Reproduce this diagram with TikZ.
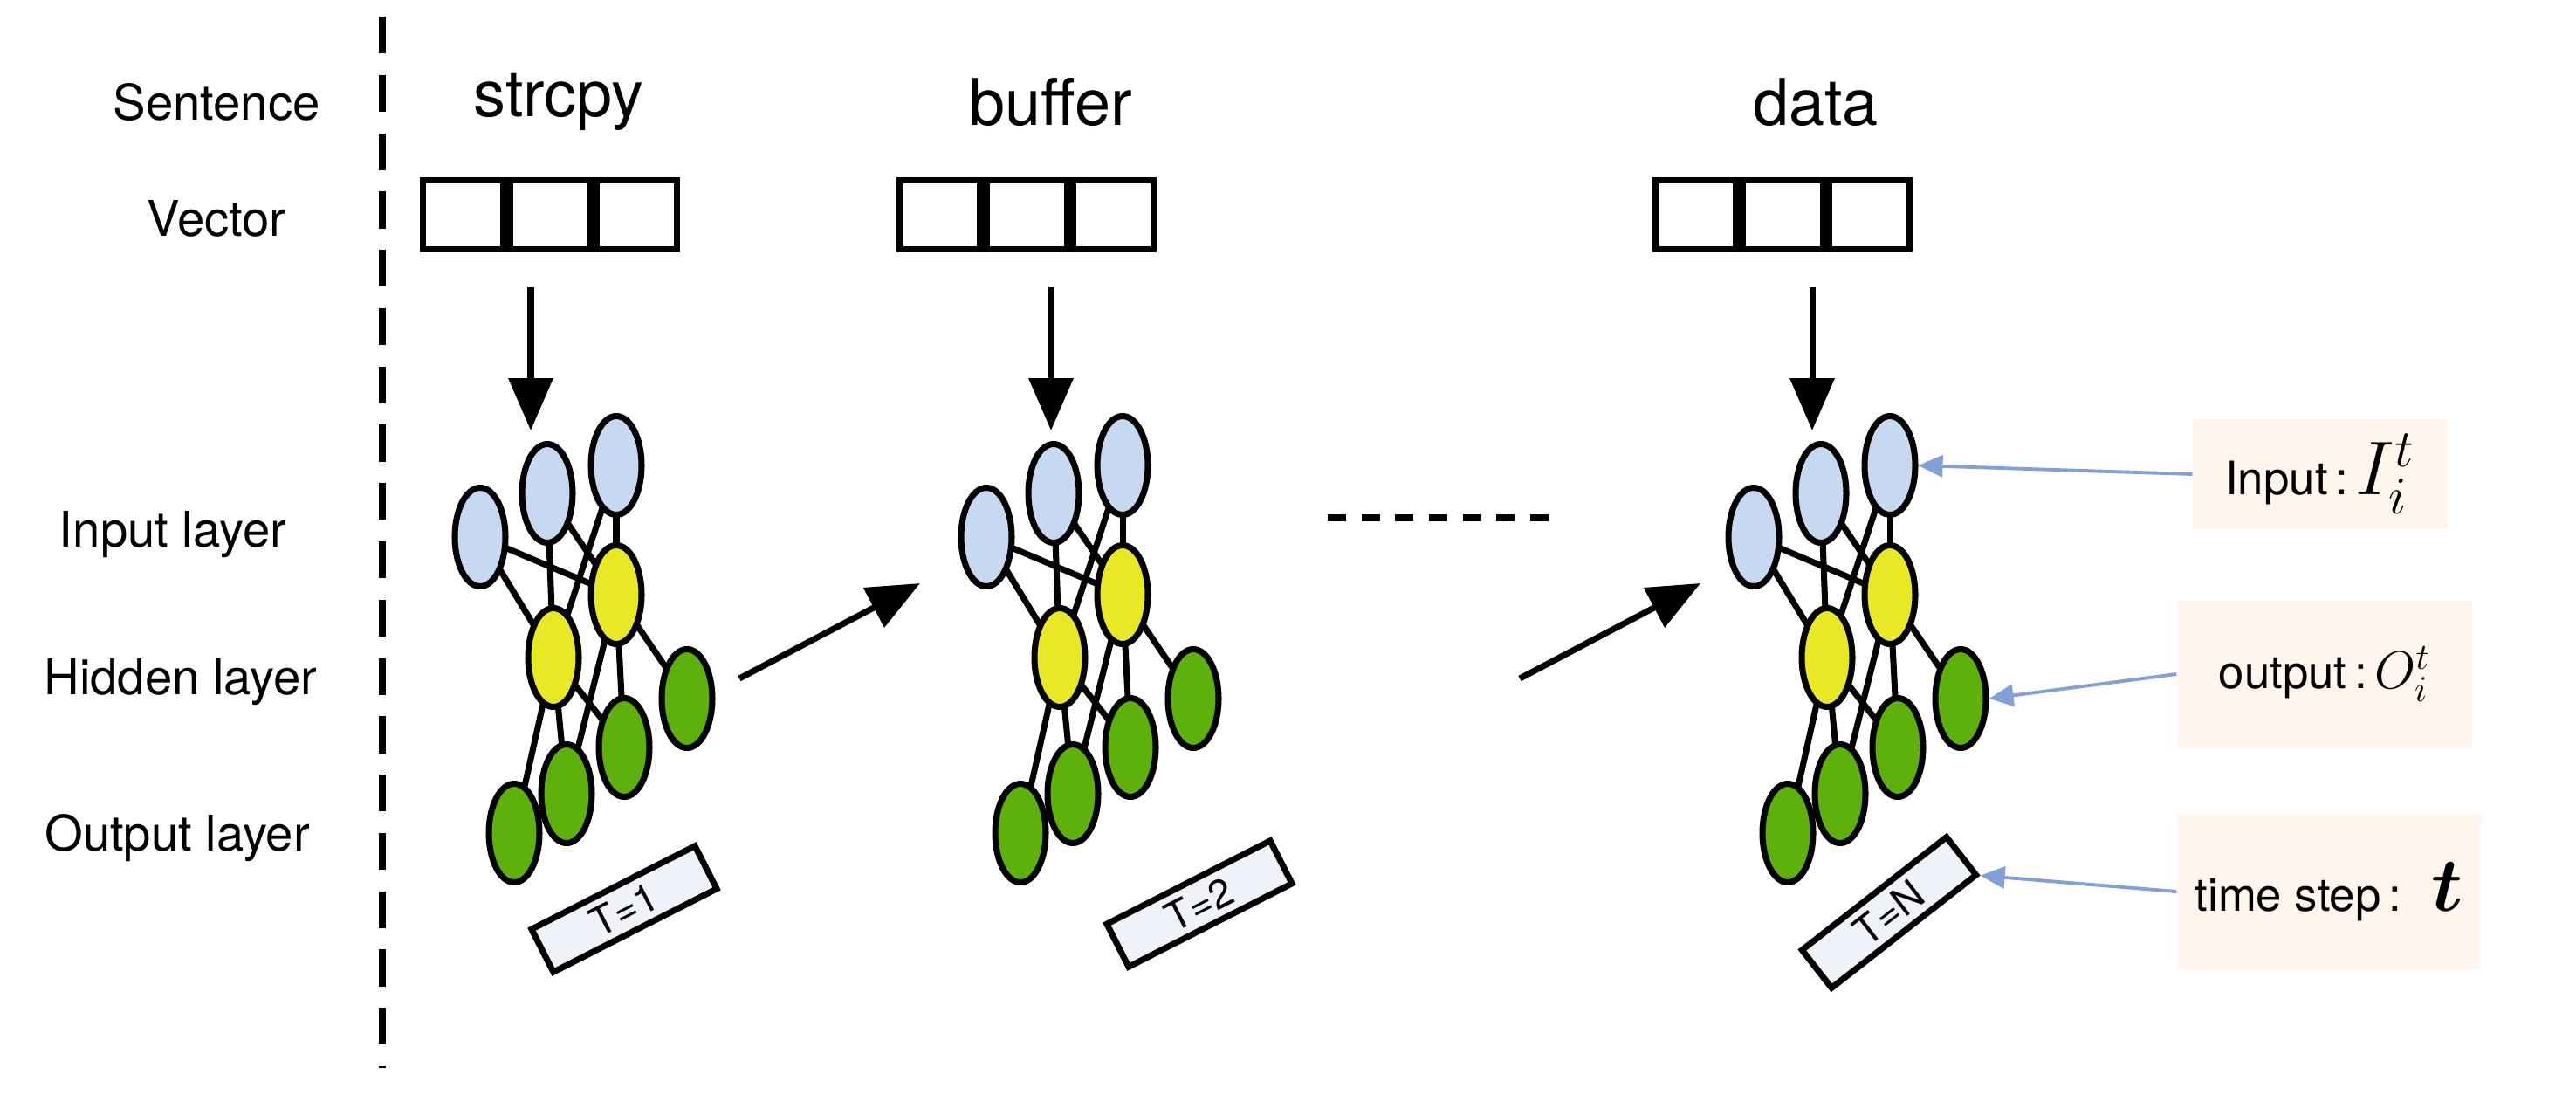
\documentclass[tikz,border=0pt]{standalone}
\usepackage{amsmath}
\usepackage{fontspec}
\setmainfont{TeX Gyre Heros}
\usepackage{tikz}
\usetikzlibrary{shapes.geometric,arrows.meta,positioning}
\definecolor{inblue}{RGB}{198,217,240}
\definecolor{hidyel}{RGB}{232,232,36}
\definecolor{outgrn}{RGB}{94,176,10}
\definecolor{tfill}{RGB}{240,242,250}
\definecolor{peach}{RGB}{254,245,236}
\definecolor{linkblue}{RGB}{130,160,215}
\pgfdeclarelayer{bg}
\pgfsetlayers{bg,main}
\tikzset{
  neuron/.style={ellipse,draw,line width=2pt,minimum width=0.58cm,minimum height=1.13cm,inner sep=0pt},
  tbox/.style={draw,line width=2pt,fill=tfill,minimum width=2.1cm,minimum height=0.55cm,inner sep=0pt,font=\fontsize{13}{14}\selectfont},
  cell/.style={draw,line width=2pt,minimum width=0.92cm,minimum height=0.79cm,inner sep=0pt},
  side/.style={fill=peach,font=\fontsize{15}{17}\selectfont},
  feed/.style={line width=2pt,-{Triangle[length=0.6cm,width=0.5cm]}},
  pointer/.style={linkblue,line width=1.1pt,-{Triangle[length=0.28cm,width=0.25cm]}},
  word/.style={font=\fontsize{21}{23}\selectfont},
  lbl/.style={font=\fontsize{16}{18}\selectfont}
}
% one small network, shifted by #1, nodes named #2...
\newcommand{\drawnet}[2]{
  \begin{scope}[xshift=#1cm]
    \node[neuron,fill=inblue] (#2i1) at (5.50,-6.15) {};
    \node[neuron,fill=inblue] (#2i2) at (6.27,-5.65) {};
    \node[neuron,fill=inblue] (#2i3) at (7.06,-5.33) {};
    \node[neuron,fill=hidyel] (#2h1) at (6.34,-7.53) {};
    \node[neuron,fill=hidyel] (#2h2) at (7.06,-6.81) {};
    \node[neuron,fill=outgrn] (#2o1) at (5.89,-9.54) {};
    \node[neuron,fill=outgrn] (#2o2) at (6.49,-9.09) {};
    \node[neuron,fill=outgrn] (#2o3) at (7.15,-8.56) {};
    \node[neuron,fill=outgrn] (#2o4) at (7.87,-8.00) {};
  \end{scope}
  \begin{pgfonlayer}{bg}
    \foreach \a/\b in {i1/h1,i1/h2,i2/h1,i2/h2,i3/h1,i3/h2,h1/o1,h1/o2,h1/o3,h2/o2,h2/o3,h2/o4}
      \draw[line width=2pt] (#2\a.center) -- (#2\b.center);
  \end{pgfonlayer}
}
% three-cell word vector centred at #1, named #2
\newcommand{\drawvec}[2]{
  \node[cell] (#2b) at (#1,-2.46) {};
  \node[cell,left=0pt of #2b] (#2a) {};
  \node[cell,right=0pt of #2b] (#2c) {};
}
\begin{document}
\begin{tikzpicture}
\useasboundingbox (0,0) rectangle (29.51,-12.53);

% left labels and separator
\node[lbl] (sent) at (2.48,-1.17) {Sentence};
\node[lbl] (vec) at (2.48,-2.50) {Vector};
\node[lbl] (inl) at (1.98,-6.12) {Input layer};
\node[lbl] (hidl) at (2.07,-7.81) {Hidden layer};
\node[lbl] (outl) at (2.03,-9.60) {Output layer};
\coordinate (sepT) at (4.38,-0.19);
\coordinate (sepB) at (4.38,-12.23);
\draw[line width=2pt,dash pattern=on 12pt off 7pt] (sepT) -- (sepB);

% words
\node[word] (w1) at (6.40,-1.17) {strcpy};
\node[word] (w2) at (12.04,-1.17) {buffer};
\node[word] (w3) at (20.80,-1.17) {data};

% vectors
\drawvec{6.30}{va}
\drawvec{11.76}{vb}
\drawvec{20.42}{vc}

% networks
\drawnet{0}{na}
\drawnet{5.80}{nb}
\drawnet{14.59}{nc}

% feeding arrows
\coordinate (fa) at (6.08,-3.29);
\coordinate (fb) at (12.04,-3.29);
\coordinate (fc) at (20.76,-3.29);
\coordinate (ta) at (6.08,-4.93);
\coordinate (tb) at (12.04,-4.93);
\coordinate (tc) at (20.76,-4.93);
\draw[feed] (fa) -- (ta);
\draw[feed] (fb) -- (tb);
\draw[feed] (fc) -- (tc);

% between steps
\coordinate (s1) at (8.47,-7.77);
\coordinate (e1) at (10.54,-6.68);
\coordinate (s2) at (17.41,-7.77);
\coordinate (e2) at (19.48,-6.68);
\draw[feed] (s1) -- (e1);
\draw[feed] (s2) -- (e2);
\coordinate (d1) at (15.21,-5.93);
\coordinate (d2) at (17.84,-5.93);
\draw[line width=2pt,dash pattern=on 6pt off 5pt] (d1) -- (d2);

% time step tags
\node[tbox,rotate=27] (t1) at (7.15,-10.41) {T=1};
\node[tbox,rotate=27] (t2) at (13.74,-10.35) {T=2};
\node[tbox,rotate=38] (tn) at (21.64,-10.45) {T=N};

% side notes
\node[side,minimum width=2.92cm,minimum height=1.26cm] (nin) at (26.58,-5.43) {Input\,:\,{\fontsize{24}{24}\selectfont$I_i^t$}};
\node[side,minimum width=3.38cm,minimum height=1.69cm] (nout) at (26.63,-7.72) {output\,:\,{\fontsize{18}{18}\selectfont$O_i^t$}};
\node[side,minimum width=3.48cm,minimum height=1.78cm] (nts) at (26.68,-10.21) {time step\,:\; {\fontsize{28}{28}\selectfont$\boldsymbol{t}$}};
\draw[pointer] (nin.west) -- (nci3.east);
\draw[pointer] (nout.west) -- (nco4.east);
\draw[pointer] (nts.west) -- (tn.south east);
\end{tikzpicture}
\end{document}
